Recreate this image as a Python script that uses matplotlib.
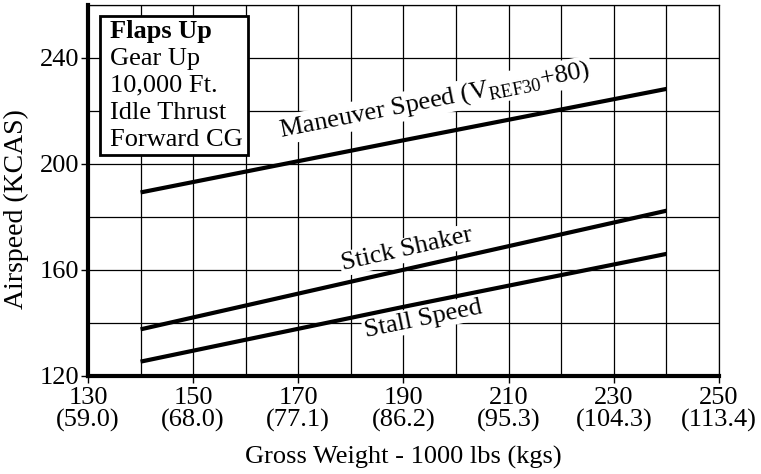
import matplotlib.pyplot as plt
from matplotlib.ticker import MultipleLocator
from matplotlib.patches import Rectangle

plt.rcParams['font.family'] = 'Liberation Serif'
plt.rcParams['mathtext.fontset'] = 'custom'
plt.rcParams['mathtext.rm'] = 'Liberation Serif'
plt.rcParams['font.size'] = 19

# gross weight (1000 lbs) and airspeeds (KCAS)
weights = [140, 190, 240]
maneuver = [189.2, 208.9, 228.3]
shaker = [137.5, 160.0, 182.3]
stall = [125.3, 146.0, 166.0]

xticks = [130, 150, 170, 190, 210, 230, 250]
kgs = ['59.0', '68.0', '77.1', '86.2', '95.3', '104.3', '113.4']
yticks = [120, 160, 200, 240]

notes = ['Gear Up', '10,000 Ft.', 'Idle Thrust', 'Forward CG']

fig = plt.figure(figsize=(7.61, 4.74), dpi=100)
ax = fig.add_axes([0.1156, 0.2074, 0.8292, 0.7821])

for y in (maneuver, shaker, stall):
    ax.plot(weights, y, color='k', lw=3, solid_capstyle='butt', zorder=3)

ax.set_xlim(130, 250)
ax.set_ylim(120, 260)
ax.set_xticks(xticks)
ax.set_xticklabels(['{}\n({})'.format(w, k) for w, k in zip(xticks, kgs)],
                   linespacing=1.02)
ax.set_yticks(yticks)
ax.xaxis.set_minor_locator(MultipleLocator(10))
ax.yaxis.set_minor_locator(MultipleLocator(20))
ax.tick_params(which='major', length=5, width=1, color='k', pad=1)
ax.tick_params(axis='x', which='major', pad=3)
ax.tick_params(which='minor', length=0)
ax.grid(which='both', color='k', lw=0.9, zorder=0)

for s in ['left', 'bottom']:
    ax.spines[s].set_linewidth(3)
for s in ['top', 'right']:
    ax.spines[s].set_linewidth(0.9)

ax.set_xlabel('Gross Weight - 1000 lbs (kgs)')
ax.xaxis.set_label_coords(0.5, -0.19)
ax.set_ylabel('Airspeed (KCAS)', fontsize=20)
ax.yaxis.set_label_coords(-0.094, 0.45)

bb = dict(facecolor='white', edgecolor='none', pad=1)
ax.text(196, 224.0, r'Maneuver Speed (V$_{\mathrm{REF30}}$+80)', rotation=11.1,
        ha='center', va='center', bbox=bb, zorder=4)
ax.text(190.6, 167.5, 'Stick Shaker', rotation=12.7,
        ha='center', va='center', bbox=bb, zorder=4)
ax.text(193.7, 141.5, 'Stall Speed', rotation=11.6,
        ha='center', va='center', bbox=bb, zorder=4)

# conditions box
ax.add_patch(Rectangle((0.0195, 0.595), 0.2345, 0.376, transform=ax.transAxes,
                       facecolor='white', edgecolor='k', lw=2, zorder=5))
ax.text(0.035, 0.928, 'Flaps Up', weight='bold', transform=ax.transAxes,
        va='center', zorder=6)
for i, n in enumerate(notes):
    ax.text(0.035, 0.855 - i * 0.073, n, transform=ax.transAxes,
            va='center', zorder=6)

plt.savefig('out.png', dpi=100)
